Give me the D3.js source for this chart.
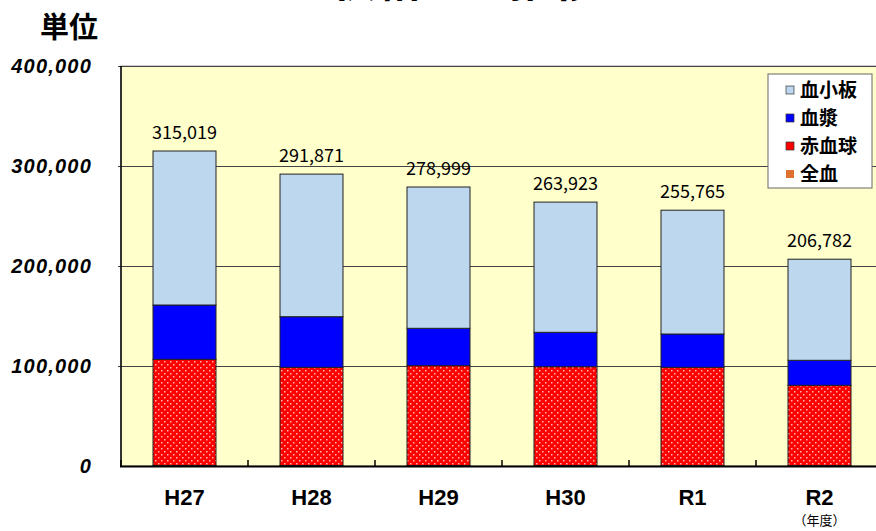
<!DOCTYPE html>
<html>
<head>
<meta charset="utf-8">
<script src="https://cdn.jsdelivr.net/npm/d3@7"></script>
<style>
  body { margin: 0; background: #fff; }
  svg { display: block; }
</style>
</head>
<body>
<svg width="876" height="531"></svg>
<script>
const years = ['H27', 'H28', 'H29', 'H30', 'R1', 'R2'];
const wholeBlood = [600, 500, 400, 400, 300, 300];          // 全血
const redCells = [106100, 98200, 99900, 98900, 98400, 80400]; // 赤血球
const plasma = [54300, 50600, 37400, 34400, 33300, 25000];     // 血漿
const platelets = [154000, 142600, 141300, 130200, 123800, 101100]; // 血小板
const totals = [315019, 291871, 278999, 263923, 255765, 206782];
const yTicks = [0, 100000, 200000, 300000, 400000];

const seriesNames = ['全血', '赤血球', '血漿', '血小板'];
const seriesVals = [wholeBlood, redCells, plasma, platelets];

const margins = {t: 66, l: 121, b: 65};
const size = {w: 762, h: 400};
const svg = d3.select('svg');

// red dotted fill
const defs = svg.append('defs');
const pat = defs.append('pattern')
    .attr('id', 'dots')
    .attr('width', 6).attr('height', 6)
    .attr('patternUnits', 'userSpaceOnUse');
pat.append('rect').attr('width', 6).attr('height', 6).attr('fill', '#f00');
pat.append('rect').attr('x', 1).attr('y', 1).attr('width', 1.5).attr('height', 1.5).attr('fill', '#ffb4b4');
pat.append('rect').attr('x', 4).attr('y', 4).attr('width', 1.5).attr('height', 1.5).attr('fill', '#ffb4b4');

const colors = ['#e07030', 'url(#dots)', '#0000ff', '#bdd7ee'];

// title (cut off at the top of the picture, as in the reference)
svg.append('text')
    .attr('x', 465).attr('y', -3)
    .attr('text-anchor', 'middle')
    .style('font-family', 'Noto Sans CJK JP')
    .style('font-weight', 'bold')
    .style('font-size', '44px')
    .text('供給量の推移');

svg.append('text')
    .attr('x', 40).attr('y', 38)
    .style('font-family', 'Noto Sans CJK JP')
    .style('font-weight', 'bold')
    .style('font-size', '29px')
    .text('単位');

const g = svg.append('g')
    .attr('transform', `translate(${margins.l}, ${margins.t})`);

const scaleX = d3.scaleBand().domain(years).range([0, size.w]);
const scaleY = d3.scaleLinear().domain([0, 400000]).range([size.h, 0]);

g.append('rect')
    .attr('width', size.w).attr('height', size.h)
    .attr('fill', '#ffffcc')
    .attr('stroke', '#999').attr('stroke-width', 1);

g.selectAll('line.grid')
    .data(yTicks.slice(1))
    .enter().append('line')
    .attr('class', 'grid')
    .attr('x1', -3).attr('x2', size.w)
    .attr('y1', d => scaleY(d) + 0.5).attr('y2', d => scaleY(d) + 0.5)
    .attr('stroke', '#444').attr('stroke-width', 1);

// stacked bars
const table = years.map((y, i) => {
    const row = {year: y};
    seriesNames.forEach((s, j) => row[s] = seriesVals[j][i]);
    return row;
});
const stacked = d3.stack().keys(seriesNames)(table);
const barW = 63;

g.selectAll('g.series')
    .data(stacked)
    .enter().append('g')
    .attr('class', 'series')
    .attr('fill', (d, i) => colors[i])
    .selectAll('rect')
    .data(d => d)
    .enter().append('rect')
    .attr('x', d => scaleX(d.data.year) + scaleX.bandwidth() / 2 - barW / 2)
    .attr('width', barW)
    .attr('y', d => scaleY(d[1]))
    .attr('height', d => scaleY(d[0]) - scaleY(d[1]))
    .attr('stroke', '#222')
    .attr('stroke-width', 1);

// total labels
g.selectAll('text.total')
    .data(totals)
    .enter().append('text')
    .attr('class', 'total')
    .attr('x', (d, i) => scaleX(years[i]) + scaleX.bandwidth() / 2)
    .attr('y', d => scaleY(d) - 12)
    .attr('text-anchor', 'middle')
    .style('font-family', 'Noto Sans CJK JP')
    .style('font-size', '18px')
    .text(d => d3.format(',')(d));

// axes
g.append('line')
    .attr('x1', 0).attr('x2', 0).attr('y1', 0).attr('y2', size.h)
    .attr('stroke', '#000').attr('stroke-width', 1.5);
g.append('line')
    .attr('x1', -1).attr('x2', size.w).attr('y1', size.h + 0.5).attr('y2', size.h + 0.5)
    .attr('stroke', '#000').attr('stroke-width', 2);
g.selectAll('line.xtick')
    .data(years)
    .enter().append('line')
    .attr('class', 'xtick')
    .attr('x1', d => scaleX(d)).attr('x2', d => scaleX(d))
    .attr('y1', size.h).attr('y2', size.h - 6)
    .attr('stroke', '#000').attr('stroke-width', 1.5);

g.selectAll('text.ylab')
    .data(yTicks)
    .enter().append('text')
    .attr('class', 'ylab')
    .attr('x', -29)
    .attr('y', d => scaleY(d))
    .attr('dy', '0.36em')
    .attr('text-anchor', 'end')
    .style('font-family', 'Liberation Sans')
    .style('font-weight', 'bold')
    .style('font-style', 'italic')
    .style('font-size', '20px')
    .style('letter-spacing', '1.2px')
    .text(d => d3.format(',')(d));

g.selectAll('text.xlab')
    .data(years)
    .enter().append('text')
    .attr('class', 'xlab')
    .attr('x', d => scaleX(d) + scaleX.bandwidth() / 2)
    .attr('y', size.h + 39)
    .attr('text-anchor', 'middle')
    .style('font-family', 'Liberation Sans')
    .style('font-weight', 'bold')
    .style('font-size', '22px')
    .text(d => d);

g.append('text')
    .attr('x', scaleX('R2') + scaleX.bandwidth() / 2)
    .attr('y', size.h + 59)
    .attr('text-anchor', 'middle')
    .style('font-family', 'Noto Sans CJK JP')
    .style('font-size', '13px')
    .text('（年度）');

// legend
const lg = svg.append('g').attr('transform', 'translate(768, 74)');
lg.append('rect')
    .attr('width', 104).attr('height', 114)
    .attr('fill', '#fff').attr('stroke', '#666').attr('stroke-width', 1);
const legendOrder = [3, 2, 1, 0];
const item = lg.selectAll('g.item')
    .data(legendOrder)
    .enter().append('g')
    .attr('class', 'item')
    .attr('transform', (d, i) => `translate(18, ${16 + i * 28})`);
item.append('rect')
    .attr('x', 0).attr('y', -4).attr('width', 8).attr('height', 8)
    .attr('fill', d => d === 1 ? '#f00' : colors[d])
    .attr('stroke', d => d === 0 ? 'none' : '#333').attr('stroke-width', 0.7);
item.append('text')
    .attr('x', 14).attr('dy', '0.36em')
    .style('font-family', 'Noto Sans CJK JP')
    .style('font-weight', 'bold')
    .style('font-size', '19px')
    .text(d => seriesNames[d]);
</script>
</body>
</html>
